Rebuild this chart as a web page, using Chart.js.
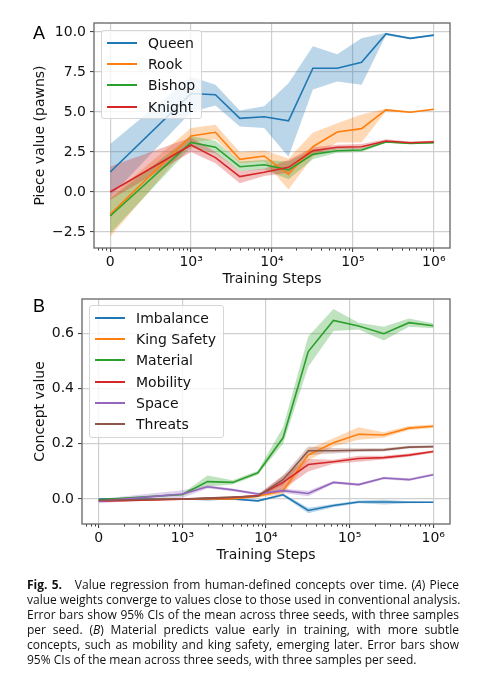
<!DOCTYPE html>
<html>
<head>
<meta charset="utf-8">
<script src="https://cdn.jsdelivr.net/npm/chart.js@4.4.1/dist/chart.umd.min.js"></script>
<style>
  html, body { margin: 0; padding: 0; background: #fff; }
  #page { position: relative; width: 477px; height: 680px; overflow: hidden; font-family: 'DejaVu Sans', sans-serif; }
  .panel { position: absolute; left: 0; width: 477px; }
  #panelA { top: 0; height: 290px; }
  #panelB { top: 285px; height: 280px; }
  .tag { position: absolute; font: 18px 'Liberation Sans', Arial, sans-serif; color: #000; line-height: 18px; }
  .legend { position: absolute; background: rgba(255,255,255,0.8); border: 1px solid #d6d6d6; border-radius: 3px; box-sizing: border-box; padding-top: 1px; }
  .legend .row { display: flex; align-items: center; height: 21.3px; font-size: 14px; color: #111; white-space: nowrap; }
  .legend .swatch { display: inline-block; width: 30px; height: 0; border-top: 2px solid; margin-left: 5px; margin-right: 11px; }
  #caption { position: absolute; left: 27px; top: 577px; width: 432px; font: 12px/15px 'Open Sans', sans-serif; color: #111; }
  #caption span { display: block; text-align: justify; text-align-last: justify; white-space: nowrap; }
  #caption span.last { text-align-last: left; }
</style>
</head>
<body>
<div id="page">
  <div class="panel" id="panelA"><canvas id="pieceChart" width="477" height="290"></canvas></div>
  <div class="panel" id="panelB"><canvas id="conceptChart" width="477" height="280"></canvas></div>
  <div class="tag" style="left:33px; top:24px;">A</div>
  <div class="tag" style="left:33px; top:297px;">B</div>
  <div class="legend" id="legendA" style="left:101px; top:30px; width:101px; height:89px;"></div>
  <div class="legend" id="legendB" style="left:89px; top:305px; width:135px; height:133px;"></div>
  <div id="caption">
    <span><b>Fig. 5.</b>&nbsp;&nbsp; Value regression from human-defined concepts over time. (<i>A</i>) Piece</span>
    <span>value weights converge to values close to those used in conventional analysis.</span>
    <span>Error bars show 95% CIs of the mean across three seeds, with three samples</span>
    <span>per seed. (<i>B</i>) Material predicts value early in training, with more subtle</span>
    <span>concepts, such as mobility and king safety, emerging later. Error bars show</span>
    <span class="last">95% CIs of the mean across three seeds, with three samples per seed.</span>
  </div>
</div>

<script>
'use strict';

// ---- shared x axis (training steps) ----
const steps = [0, 1000, 2000, 4000, 8000, 16000, 32000, 64000, 128000, 256000, 512000, 1000000];
const xTickSteps = [0, 1e3, 1e4, 1e5, 1e6];
const xTickLabels = ['0', '10³', '10⁴', '10⁵', '10⁶'];

// ---- panel A: piece values ----
const pieceNames = ['Queen', 'Rook', 'Bishop', 'Knight'];
const pieceColors = ['#1f77b4', '#ff7f0e', '#2ca02c', '#d62728'];
const queenMean = [1.25, 6.15, 6.08, 4.6, 4.7, 4.45, 7.73, 7.73, 8.1, 9.88, 9.6, 9.8];
const queenLow = [-0.3, 5.0, 5.4, 4.1, 4.0, 2.2, 6.4, 6.9, 6.7, 9.8, 9.55, 9.75];
const queenHigh = [3.0, 7.2, 6.7, 5.1, 5.35, 6.8, 9.1, 8.6, 9.6, 9.95, 9.65, 9.85];
const rookMean = [-1.4, 3.5, 3.73, 2.04, 2.25, 1.1, 2.83, 3.75, 3.96, 5.13, 4.98, 5.17];
const rookLow = [-2.8, 3.1, 3.3, 1.8, 1.9, 0.15, 2.2, 3.1, 3.1, 5.05, 4.93, 5.12];
const rookHigh = [-0.3, 4.0, 4.2, 2.5, 2.6, 2.1, 3.7, 4.3, 4.85, 5.2, 5.05, 5.22];
const bishopMean = [-1.5, 3.1, 2.8, 1.58, 1.7, 1.38, 2.35, 2.58, 2.62, 3.12, 3.04, 3.08];
const bishopLow = [-2.6, 2.8, 2.4, 1.3, 1.4, 0.8, 2.05, 2.45, 2.5, 3.08, 3.0, 3.03];
const bishopHigh = [-0.4, 3.5, 3.2, 1.9, 2.0, 1.9, 2.65, 2.75, 2.75, 3.18, 3.1, 3.13];
const knightMean = [0.0, 2.94, 2.15, 0.96, 1.23, 1.54, 2.58, 2.8, 2.83, 3.19, 3.08, 3.14];
const knightLow = [-0.5, 2.5, 1.8, 0.55, 1.0, 1.2, 2.4, 2.65, 2.7, 3.1, 3.0, 3.05];
const knightHigh = [1.6, 3.4, 2.5, 1.3, 1.45, 2.0, 2.8, 2.95, 3.0, 3.3, 3.15, 3.2];
const pieceTicks = [-2.5, 0, 2.5, 5, 7.5, 10];

// ---- panel B: concept values ----
const conceptNames = ['Imbalance', 'King Safety', 'Material', 'Mobility', 'Space', 'Threats'];
const conceptColors = ['#1f77b4', '#ff7f0e', '#2ca02c', '#d62728', '#9467bd', '#8c564b'];
const imbalanceMean = [0.0, 0.0, -0.002, 0.0, -0.007, 0.015, -0.042, -0.024, -0.011, -0.011, -0.012, -0.012];
const imbalanceLow = [-0.003, -0.003, -0.005, -0.003, -0.01, 0.01, -0.052, -0.03, -0.016, -0.02, -0.016, -0.015];
const imbalanceHigh = [0.003, 0.003, 0.001, 0.003, -0.004, 0.02, -0.032, -0.018, -0.006, -0.003, -0.008, -0.009];
const kingSafetyMean = [-0.005, 0.0, 0.0, 0.0, 0.01, 0.03, 0.159, 0.204, 0.235, 0.232, 0.257, 0.264];
const kingSafetyLow = [-0.008, -0.003, -0.003, -0.003, 0.006, 0.015, 0.14, 0.19, 0.215, 0.222, 0.25, 0.258];
const kingSafetyHigh = [-0.002, 0.003, 0.003, 0.003, 0.014, 0.06, 0.18, 0.22, 0.26, 0.242, 0.265, 0.27];
const materialMean = [-0.003, 0.016, 0.063, 0.06, 0.095, 0.222, 0.535, 0.648, 0.628, 0.6, 0.64, 0.629];
const materialLow = [-0.006, 0.012, 0.045, 0.052, 0.088, 0.2, 0.48, 0.61, 0.615, 0.575, 0.625, 0.62];
const materialHigh = [0.0, 0.02, 0.085, 0.068, 0.102, 0.26, 0.59, 0.69, 0.64, 0.625, 0.655, 0.638];
const mobilityMean = [-0.008, -0.001, 0.002, 0.005, 0.012, 0.06, 0.125, 0.135, 0.147, 0.15, 0.159, 0.172];
const mobilityLow = [-0.012, -0.004, -0.001, 0.002, 0.008, 0.035, 0.1, 0.128, 0.135, 0.143, 0.153, 0.167];
const mobilityHigh = [-0.004, 0.002, 0.005, 0.008, 0.016, 0.085, 0.145, 0.142, 0.157, 0.157, 0.165, 0.177];
const spaceMean = [-0.008, 0.018, 0.044, 0.033, 0.018, 0.03, 0.02, 0.06, 0.052, 0.076, 0.07, 0.088];
const spaceLow = [-0.016, 0.004, 0.038, 0.028, 0.013, 0.022, 0.01, 0.055, 0.047, 0.071, 0.065, 0.083];
const spaceHigh = [0.0, 0.032, 0.05, 0.038, 0.023, 0.038, 0.03, 0.065, 0.057, 0.081, 0.075, 0.093];
const threatsMean = [-0.005, 0.0, 0.003, 0.007, 0.01, 0.07, 0.175, 0.175, 0.177, 0.178, 0.188, 0.19];
const threatsLow = [-0.008, -0.003, 0.0, 0.004, 0.006, 0.05, 0.16, 0.165, 0.17, 0.172, 0.183, 0.186];
const threatsHigh = [-0.002, 0.003, 0.006, 0.01, 0.014, 0.085, 0.19, 0.185, 0.184, 0.184, 0.193, 0.194];
const conceptTicks = [0, 0.2, 0.4, 0.6];

const FONT = { family: "'DejaVu Sans', sans-serif", size: 14 };
const TEXT = '#111';

// 0 sits one decade left of 10^3, as in the original axis
const stepPos = s => (s === 0 ? 2 : Math.log10(s));

function alpha(hex, a) {
  const n = parseInt(hex.slice(1), 16);
  return `rgba(${n >> 16},${(n >> 8) & 255},${n & 255},${a})`;
}

function buildDatasets(colors, names, means, lows, highs) {
  const pts = arr => arr.map((v, j) => ({ x: stepPos(steps[j]), y: v }));
  const n = names.length;
  const sets = [];
  names.forEach((name, i) => {
    sets.push({ label: name + ' low', data: pts(lows[i]), borderWidth: 0, pointRadius: 0, fill: false, order: 100 + n - i });
    sets.push({ label: name + ' high', data: pts(highs[i]), borderWidth: 0, pointRadius: 0,
      fill: '-1', backgroundColor: alpha(colors[i], 0.3), order: 100 + n - i });
  });
  names.forEach((name, i) => {
    sets.push({ label: name, data: pts(means[i]), borderColor: colors[i], borderWidth: 1.6,
      pointRadius: 0, fill: false, tension: 0, order: n - i });
  });
  return sets;
}

// frame + log minor ticks on the x axis
const framePlugin = {
  id: 'frame',
  afterDraw(chart) {
    const { ctx, chartArea: a } = chart;
    const x = chart.scales.x;
    ctx.save();
    ctx.strokeStyle = '#333';
    ctx.lineWidth = 1;
    for (let d = 1; d < 7; d++) {
      for (let k = 2; k < 10; k++) {
        const v = d + Math.log10(k);
        if (v <= x.min || v >= x.max) continue;
        const px = Math.round(x.getPixelForValue(v)) + 0.5;
        ctx.beginPath();
        ctx.moveTo(px, a.bottom);
        ctx.lineTo(px, a.bottom + 2.5);
        ctx.stroke();
      }
    }
    ctx.strokeStyle = '#707070';
    ctx.lineWidth = 1.4;
    ctx.strokeRect(a.left, a.top, a.right - a.left, a.bottom - a.top);
    ctx.restore();
  },
};

function makeChart(id, datasets, cfg) {
  return new Chart(document.getElementById(id), {
    type: 'line',
    data: { datasets },
    options: {
      responsive: false,
      animation: false,
      events: [],
      layout: { padding: { top: cfg.padTop, right: 27, left: 24, bottom: 0 } },
      plugins: { legend: { display: false }, tooltip: { enabled: false } },
      scales: {
        x: {
          type: 'linear',
          min: 1.8,
          max: 6.2,
          afterBuildTicks: s => { s.ticks = xTickSteps.map(v => ({ value: stepPos(v) })); },
          afterFit: s => { s.height = cfg.xHeight; },
          ticks: { callback: (v, i) => xTickLabels[i], font: FONT, color: TEXT, padding: 2, maxRotation: 0, autoSkip: false },
          grid: { color: '#cfcfcf', lineWidth: 1.2, tickColor: '#333', tickLength: 4, tickWidth: 1 },
          border: { display: false },
          title: { display: true, text: 'Training Steps', font: FONT, color: TEXT, padding: { top: 0, bottom: cfg.xTitlePad } },
        },
        y: {
          min: cfg.yMin,
          max: cfg.yMax,
          afterBuildTicks: s => { s.ticks = cfg.yTicks.map(v => ({ value: v })); },
          afterFit: s => { s.width = cfg.yWidth; },
          ticks: { callback: v => v.toFixed(1).replace('-', '\u2212'), font: FONT, color: TEXT, padding: 4 },
          grid: { color: '#cfcfcf', lineWidth: 1.2, tickColor: '#333', tickLength: 4, tickWidth: 1 },
          border: { display: false },
          title: { display: true, text: cfg.yTitle, font: FONT, color: TEXT, padding: { top: 8, bottom: 0 } },
        },
      },
    },
    plugins: [framePlugin],
  });
}

function buildLegend(id, names, colors) {
  const box = document.getElementById(id);
  names.forEach((name, i) => {
    const row = document.createElement('div');
    row.className = 'row';
    const sw = document.createElement('span');
    sw.className = 'swatch';
    sw.style.borderColor = colors[i];
    row.appendChild(sw);
    row.appendChild(document.createTextNode(name));
    box.appendChild(row);
  });
}

makeChart('pieceChart',
  buildDatasets(pieceColors, pieceNames,
    [queenMean, rookMean, bishopMean, knightMean],
    [queenLow, rookLow, bishopLow, knightLow],
    [queenHigh, rookHigh, bishopHigh, knightHigh]),
  { padTop: 23, xHeight: 42, xTitlePad: 2, yWidth: 70, yMin: -3.5, yMax: 10.56, yTicks: pieceTicks, yTitle: 'Piece value (pawns)' });

makeChart('conceptChart',
  buildDatasets(conceptColors, conceptNames,
    [imbalanceMean, kingSafetyMean, materialMean, mobilityMean, spaceMean, threatsMean],
    [imbalanceLow, kingSafetyLow, materialLow, mobilityLow, spaceLow, threatsLow],
    [imbalanceHigh, kingSafetyHigh, materialHigh, mobilityHigh, spaceHigh, threatsHigh]),
  { padTop: 14, xHeight: 41, xTitlePad: 1, yWidth: 58, yMin: -0.091, yMax: 0.726, yTicks: conceptTicks, yTitle: 'Concept value' });

buildLegend('legendA', pieceNames, pieceColors);
buildLegend('legendB', conceptNames, conceptColors);
</script>
</body>
</html>
